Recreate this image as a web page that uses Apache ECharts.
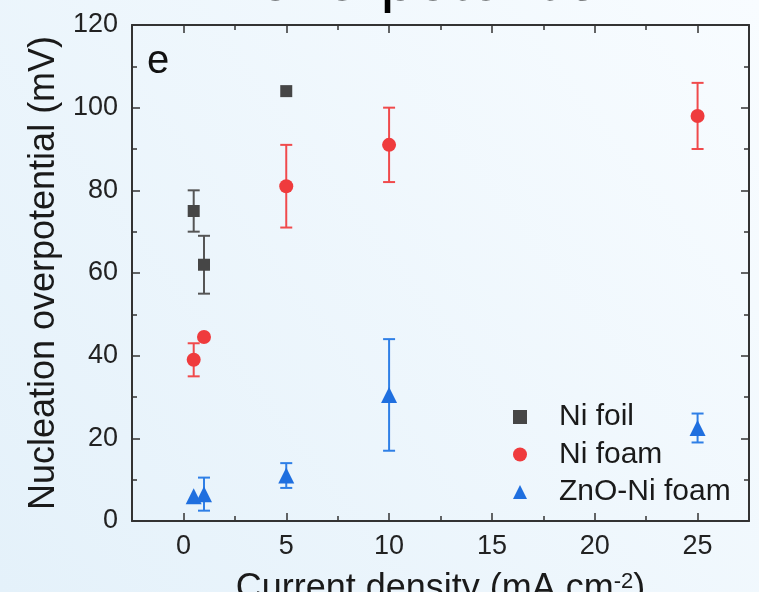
<!DOCTYPE html>
<html>
<head>
<meta charset="utf-8">
<script src="https://cdn.jsdelivr.net/npm/echarts@6/dist/echarts.min.js"></script>
<style>
  html, body { margin: 0; padding: 0; }
  #chart { width: 759px; height: 592px; }
</style>
</head>
<body>
<div id="chart"></div>
<script>
const FONT = '"Liberation Sans", Arial, sans-serif';

// current density (mA cm-2), overpotential (mV), error half-width (mV)
const niFoilX = [0.5, 1, 5];
const niFoilY = [75, 62, 104];
const niFoilErr = [5, 7, 0];

const niFoamX = [0.5, 1, 5, 10, 25];
const niFoamY = [39, 44.5, 81, 91, 98];
const niFoamErr = [4, 0, 10, 9, 8];

const znoX = [0.5, 1, 5, 10, 25];
const znoY = [6, 6.5, 11, 30.5, 22.5];
const znoErr = [0, 4, 3, 13.5, 3.5];

const xMajorTicks = [0, 5, 10, 15, 20, 25];
const xMinorTicks = [-2.5, 2.5, 7.5, 12.5, 17.5, 22.5, 27.5];

const GRAY = '#464646';
const RED = '#ef3b3d';
const BLUE = '#1f6fdf';

const chart = echarts.init(document.getElementById('chart'));

function points(xs, ys) {
  return xs.map((x, i) => [x, ys[i]]);
}

function errorBars(name, xs, ys, errs, color) {
  const data = [];
  xs.forEach((x, i) => {
    if (errs[i] > 0) data.push([x, ys[i] - errs[i], ys[i] + errs[i]]);
  });
  return {
    type: 'custom',
    name: name,
    xAxisIndex: 0,
    yAxisIndex: 0,
    z: 2,
    silent: true,
    data: data,
    encode: { x: 0, y: [1, 2] },
    renderItem: function (params, api) {
      const lo = api.coord([api.value(0), api.value(1)]);
      const hi = api.coord([api.value(0), api.value(2)]);
      const w = 6;
      const st = { stroke: color, lineWidth: 2 };
      return {
        type: 'group',
        children: [
          { type: 'line', shape: { x1: lo[0], y1: lo[1], x2: hi[0], y2: hi[1] }, style: st },
          { type: 'line', shape: { x1: lo[0] - w, y1: lo[1], x2: lo[0] + w, y2: lo[1] }, style: st },
          { type: 'line', shape: { x1: hi[0] - w, y1: hi[1], x2: hi[0] + w, y2: hi[1] }, style: st }
        ]
      };
    }
  };
}

const axisLine = { show: true, onZero: false, lineStyle: { color: '#333', width: 2 } };
const tickStyle = { color: '#333', width: 1.5 };

function xAxisDef(position, major, withLabels) {
  return {
    type: 'value',
    position: position,
    min: -2.5,
    max: 27.5,
    axisLine: major ? axisLine : { show: false, onZero: false },
    axisTick: {
      show: true,
      inside: true,
      length: major ? 8 : 5,
      customValues: major ? xMajorTicks : xMinorTicks,
      lineStyle: tickStyle
    },
    axisLabel: withLabels ? {
      show: true,
      customValues: xMajorTicks,
      fontSize: 27,
      color: '#222',
      margin: 12,
      fontFamily: FONT
    } : { show: false },
    splitLine: { show: false }
  };
}

function yAxisDef(position, withLabels) {
  return {
    type: 'value',
    position: position,
    min: 0,
    max: 120,
    interval: 20,
    axisLine: axisLine,
    axisTick: { show: true, inside: true, length: 8, lineStyle: tickStyle },
    minorTick: { show: true, splitNumber: 2, length: 5, lineStyle: tickStyle },
    axisLabel: withLabels ? {
      fontSize: 27,
      color: '#222',
      margin: 14,
      fontFamily: FONT
    } : { show: false },
    splitLine: { show: false }
  };
}

const xBottom = xAxisDef('bottom', true, true);
xBottom.name = 'Current density (mA cm{sup|-2})';
xBottom.nameLocation = 'middle';
xBottom.nameGap = 50;
xBottom.nameTextStyle = {
  fontSize: 36,
  color: '#1a1a1a',
  fontFamily: FONT,
  rich: {
    sup: { fontSize: 22, verticalAlign: 'top', lineHeight: 22, color: '#1a1a1a', fontFamily: FONT }
  }
};

const yLeft = yAxisDef('left', true);
yLeft.name = 'Nucleation overpotential (mV)';
yLeft.nameLocation = 'middle';
yLeft.nameGap = 67;
yLeft.nameTextStyle = { fontSize: 36, color: '#1a1a1a', fontFamily: FONT };

const option = {
  animation: false,
  backgroundColor: new echarts.graphic.LinearGradient(0, 1, 1, 0, [
    { offset: 0, color: '#e4f1fa' },
    { offset: 1, color: '#f8fcff' }
  ]),
  title: {
    text: 'e',
    left: 147,
    top: 42,
    padding: 0,
    textStyle: { fontSize: 40, fontWeight: 'normal', color: '#111', fontFamily: FONT }
  },
  graphic: [{
    type: 'text',
    x: 258,
    y: -17,
    silent: true,
    style: {
      text: 'overpotential.',
      fontSize: 63,
      fontFamily: FONT,
      fill: '#000',
      verticalAlign: 'middle'
    }
  }],
  grid: { left: 132, right: 10, top: 25, bottom: 71, containLabel: false, outerBoundsMode: 'none' },
  legend: {
    orient: 'vertical',
    left: 508,
    top: 397,
    itemWidth: 14,
    itemHeight: 14,
    itemGap: 7.5,
    data: ['Ni foil', 'Ni foam', 'ZnO-Ni foam'],
    textStyle: {
      fontSize: 30,
      lineHeight: 30,
      color: '#1a1a1a',
      fontFamily: FONT,
      padding: [0, 0, 0, 27]
    }
  },
  xAxis: [
    xBottom,
    xAxisDef('bottom', false, false),
    xAxisDef('top', true, false),
    xAxisDef('top', false, false)
  ],
  yAxis: [yLeft, yAxisDef('right', false)],
  series: [
    errorBars('Ni foil err', niFoilX, niFoilY, niFoilErr, '#555555'),
    errorBars('Ni foam err', niFoamX, niFoamY, niFoamErr, '#f04a4c'),
    errorBars('ZnO-Ni foam err', znoX, znoY, znoErr, '#2f7fe6'),
    {
      type: 'scatter', name: 'Ni foil', symbol: 'rect', symbolSize: 12, z: 5,
      itemStyle: { color: GRAY, opacity: 1 },
      data: points(niFoilX, niFoilY)
    },
    {
      type: 'scatter', name: 'Ni foam', symbol: 'circle', symbolSize: 14, z: 5,
      itemStyle: { color: RED, opacity: 1 },
      data: points(niFoamX, niFoamY)
    },
    {
      type: 'scatter', name: 'ZnO-Ni foam', symbol: 'triangle', symbolSize: 16, z: 5,
      itemStyle: { color: BLUE, opacity: 1 },
      data: points(znoX, znoY)
    }
  ]
};

chart.setOption(option);
</script>
</body>
</html>
